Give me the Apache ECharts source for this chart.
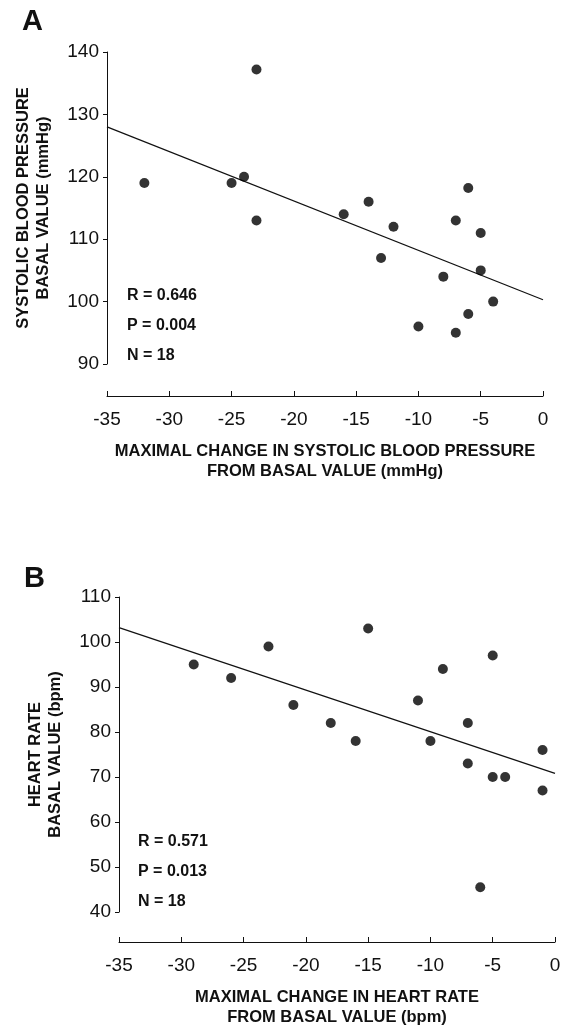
<!DOCTYPE html>
<html>
<head>
<meta charset="utf-8">
<script src="https://cdn.jsdelivr.net/npm/echarts@6/dist/echarts.min.js"></script>
<style>
  html, body { margin: 0; padding: 0; background: #fff; }
  #chart { width: 566px; height: 1028px; }
</style>
</head>
<body>
<div id="chart"></div>
<script>
// panel A: systolic blood pressure
const sbpChange = [-32, -25, -24, -23, -23, -16, -14, -13, -12, -10, -8, -7, -7, -6, -6, -5, -5, -4]
const sbpBasal  = [119, 119, 120, 137.2, 113, 114, 116, 107, 112, 96, 104, 113, 95, 118.2, 98, 111, 105, 100]
const sbpFitX = [-35, 0]
const sbpFitY = [128, 100.3]
const sbpStats = ['R = 0.646', 'P = 0.004', 'N = 18']

// panel B: heart rate
const hrChange = [-29, -26, -23, -21, -18, -16, -15, -11, -10, -9, -7, -7, -6, -5, -5, -4, -1, -1]
const hrBasal  = [95, 92, 99, 86, 82, 78, 103, 87, 78, 94, 82, 73, 45.5, 97, 70, 70, 76, 67]
const hrFitX = [-35, 0]
const hrFitY = [103.2, 70.8]
const hrStats = ['R = 0.571', 'P = 0.013', 'N = 18']

const xTicks = [-35, -30, -25, -20, -15, -10, -5, 0]

const FONT = '"Liberation Sans", Arial, sans-serif'
const zip = (a, b) => a.map((v, i) => [v, b[i]])

const chart = echarts.init(document.getElementById('chart'))

const titleStyle = { fontFamily: FONT, fontWeight: 'bold', fontSize: 16.5, lineHeight: 20, color: '#111' }
const tickStyle = { fontFamily: FONT, fontSize: 19, color: '#111' }

function xAxisOf(gridIndex, offset, name) {
  return {
    type: 'value',
    gridIndex,
    min: xTicks[0],
    max: xTicks[xTicks.length - 1],
    interval: 5,
    offset,
    name,
    nameLocation: 'middle',
    nameGap: 45,
    nameTextStyle: titleStyle,
    axisLine: { show: true, onZero: false, lineStyle: { color: '#111', width: 1 } },
    axisTick: { show: true, inside: true, length: 5, lineStyle: { color: '#111' } },
    axisLabel: { ...tickStyle, margin: 14 },
    splitLine: { show: false }
  }
}

function yAxisOf(gridIndex, min, max, name, gap) {
  return {
    type: 'value',
    gridIndex,
    min,
    max,
    interval: 10,
    name,
    nameLocation: 'middle',
    nameRotate: 90,
    nameGap: gap,
    nameTextStyle: titleStyle,
    axisLine: { show: true, onZero: false, lineStyle: { color: '#111', width: 1 } },
    axisTick: { show: true, length: 4, lineStyle: { color: '#111' } },
    axisLabel: { ...tickStyle, margin: 8 },
    splitLine: { show: false }
  }
}

function statsText(lines, left, top) {
  return lines.map((t, i) => ({
    type: 'text',
    left,
    top: top + i * 30,
    style: { text: t, font: 'bold 16px ' + FONT, fill: '#111' }
  }))
}

const option = {
  animation: false,
  grid: [
    { left: 107, right: 23, top: 52, height: 312 },
    { left: 119, right: 11, top: 597, height: 315 }
  ],
  xAxis: [
    xAxisOf(0, 32, 'MAXIMAL CHANGE IN SYSTOLIC BLOOD PRESSURE\nFROM BASAL VALUE (mmHg)'),
    xAxisOf(1, 30, 'MAXIMAL CHANGE IN HEART RATE\nFROM BASAL VALUE (bpm)')
  ],
  yAxis: [
    yAxisOf(0, 90, 140, 'SYSTOLIC BLOOD PRESSURE\nBASAL VALUE (mmHg)', 54),
    yAxisOf(1, 40, 110, 'HEART RATE\nBASAL VALUE (bpm)', 54)
  ],
  graphic: [
    { type: 'text', left: 22, top: 7, style: { text: 'A', font: 'bold 29px ' + FONT, fill: '#111' } },
    { type: 'text', left: 24, top: 564, style: { text: 'B', font: 'bold 29px ' + FONT, fill: '#111' } },
    ...statsText(sbpStats, 127, 288),
    ...statsText(hrStats, 138, 834)
  ],
  series: [
    {
      type: 'line', xAxisIndex: 0, yAxisIndex: 0,
      data: zip(sbpFitX, sbpFitY), symbol: 'none',
      lineStyle: { color: '#111', width: 1.2 }, z: 1
    },
    {
      type: 'scatter', xAxisIndex: 0, yAxisIndex: 0,
      data: zip(sbpChange, sbpBasal), symbolSize: 10,
      itemStyle: { color: '#000' }, z: 2
    },
    {
      type: 'line', xAxisIndex: 1, yAxisIndex: 1,
      data: zip(hrFitX, hrFitY), symbol: 'none',
      lineStyle: { color: '#111', width: 1.2 }, z: 1
    },
    {
      type: 'scatter', xAxisIndex: 1, yAxisIndex: 1,
      data: zip(hrChange, hrBasal), symbolSize: 10,
      itemStyle: { color: '#000' }, z: 2
    }
  ]
}

chart.setOption(option)
</script>
</body>
</html>
